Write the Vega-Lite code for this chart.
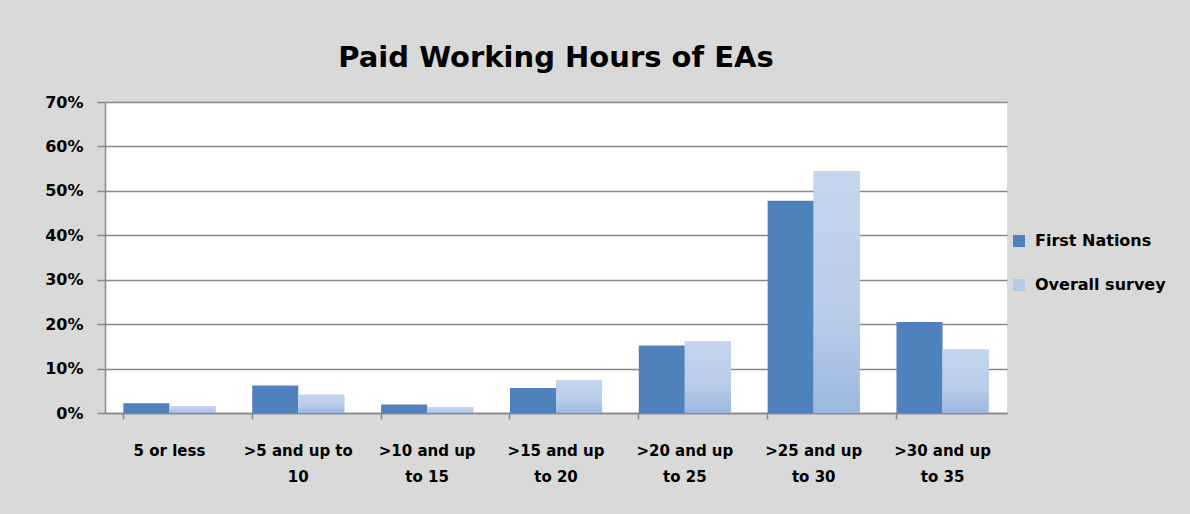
{
  "$schema": "https://vega.github.io/schema/vega-lite/v6.json",
  "autosize": {"type": "none"},
  "width": 902,
  "height": 311,
  "padding": {"left": 105, "top": 102, "right": 183, "bottom": 101},
  "background": "#d9d9d9",
  "title": {
    "text": "Paid Working Hours of EAs",
    "font": "DejaVu Sans",
    "fontSize": 29,
    "fontWeight": "bold",
    "color": "#000000",
    "anchor": "middle",
    "offset": 21
  },
  "config": {
    "view": {"fill": "#ffffff", "stroke": null},
    "font": "DejaVu Sans"
  },
  "data": {
    "values": [
      {"category": "5 or less", "series": "First Nations", "share": 0.022},
      {"category": "5 or less", "series": "Overall survey", "share": 0.016},
      {"category": ">5 and up to 10", "series": "First Nations", "share": 0.062},
      {"category": ">5 and up to 10", "series": "Overall survey", "share": 0.041},
      {"category": ">10 and up to 15", "series": "First Nations", "share": 0.019},
      {"category": ">10 and up to 15", "series": "Overall survey", "share": 0.013},
      {"category": ">15 and up to 20", "series": "First Nations", "share": 0.056},
      {"category": ">15 and up to 20", "series": "Overall survey", "share": 0.074},
      {"category": ">20 and up to 25", "series": "First Nations", "share": 0.152},
      {"category": ">20 and up to 25", "series": "Overall survey", "share": 0.162},
      {"category": ">25 and up to 30", "series": "First Nations", "share": 0.478},
      {"category": ">25 and up to 30", "series": "Overall survey", "share": 0.544},
      {"category": ">30 and up to 35", "series": "First Nations", "share": 0.205},
      {"category": ">30 and up to 35", "series": "Overall survey", "share": 0.143}
    ]
  },
  "resolve": {"axis": {"x": "independent"}},
  "layer": [
    {
      "mark": {"type": "bar"},
      "encoding": {
        "x": {
          "field": "category",
          "type": "nominal",
          "sort": null,
          "title": null,
          "scale": {"paddingInner": 0.285, "paddingOuter": 0.1425},
          "axis": {
            "orient": "bottom",
            "labelAngle": 0,
            "labelFont": "DejaVu Sans",
            "labelFontSize": 15,
            "labelFontWeight": "bold",
            "labelColor": "#000000",
            "labelPadding": 30,
            "labelLineHeight": 26,
            "labelBaseline": "top",
            "labelExpr": "datum.value == '>5 and up to 10' ? ['>5 and up to', '10'] : split(replace(datum.value, 'up to', 'up|to'), '|')",
            "ticks": false,
            "domainColor": "#888888",
            "domainWidth": 1.5,
            "grid": false
          }
        },
        "xOffset": {"field": "series", "type": "nominal", "scale": {"paddingInner": 0, "paddingOuter": 0}},
        "y": {
          "field": "share",
          "type": "quantitative",
          "title": null,
          "scale": {"domain": [0, 0.7], "nice": false},
          "axis": {
            "format": ".0%",
            "values": [0, 0.1, 0.2, 0.3, 0.4, 0.5, 0.6, 0.7],
            "labelFont": "DejaVu Sans",
            "labelFontSize": 16,
            "labelFontWeight": "bold",
            "labelColor": "#000000",
            "labelPadding": 14,
            "tickSize": 8,
            "tickColor": "#888888",
            "tickWidth": 1.5,
            "domainColor": "#888888",
            "domainWidth": 1.5,
            "gridColor": "#888888",
            "gridWidth": 1.5
          }
        },
        "color": {
          "field": "series",
          "type": "nominal",
          "scale": {"domain": ["First Nations", "Overall survey"], "range": ["#4f81bd", "#b4c8e8"]},
          "legend": {
            "title": null,
            "orient": "none",
            "legendX": 906,
            "legendY": 131,
            "symbolType": "square",
            "symbolSize": 144,
            "symbolStrokeWidth": 0,
            "labelFont": "DejaVu Sans",
            "labelFontSize": 16,
            "labelFontWeight": "bold",
            "labelColor": "#000000",
            "rowPadding": 28,
            "labelOffset": 8
          }
        }
      }
    },
    {
      "transform": [{"filter": "datum.series == 'Overall survey'"}],
      "mark": {
        "type": "bar",
        "color": {
          "gradient": "linear",
          "x1": 0, "y1": 0, "x2": 0, "y2": 1,
          "stops": [
            {"offset": 0, "color": "#c5d5ed"},
            {"offset": 0.6, "color": "#b9cce9"},
            {"offset": 1, "color": "#9cb7e0"}
          ]
        }
      },
      "encoding": {
        "x": {
          "field": "category",
          "type": "nominal",
          "sort": null,
          "title": null,
          "axis": {
            "orient": "bottom",
            "bandPosition": 0,
            "labels": false,
            "domain": false,
            "ticks": true,
            "tickSize": 6,
            "tickColor": "#888888",
            "tickWidth": 1.5,
            "grid": false
          }
        },
        "xOffset": {"field": "series", "type": "nominal"},
        "y": {"field": "share", "type": "quantitative"}
      }
    }
  ]
}
